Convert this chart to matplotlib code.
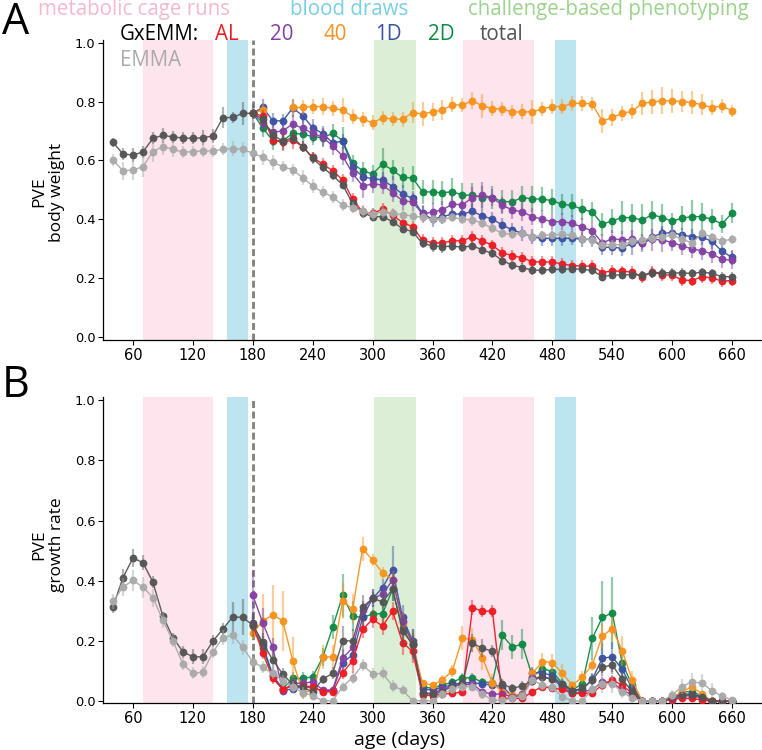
import matplotlib
matplotlib.use("Agg")
import matplotlib.pyplot as plt

NaN = float('nan')
days = list(range(40, 670, 10))          # 63 time points
pre = [NaN] * 14                          # GxEMM series start at day 180

# ---------------- Panel A: PVE body weight ----------------
total_bw = [0.661,0.622,0.618,0.629,0.675,0.685,0.680,0.676,0.675,0.677,0.683,0.745,0.746,0.760,
            0.760,0.740,0.686,0.666,0.677,0.647,0.608,0.576,0.549,0.517,0.454,0.422,0.409,0.409,0.392,0.368,
            0.358,0.318,0.310,0.307,0.309,0.305,0.310,0.296,0.284,0.260,0.244,0.236,0.227,0.227,0.230,0.230,
            0.232,0.230,0.227,0.205,0.211,0.211,0.212,0.210,0.219,0.219,0.218,0.218,0.216,0.221,0.216,0.205,0.205]
emma_bw = [0.601,0.565,0.567,0.579,0.630,0.647,0.638,0.628,0.630,0.632,0.632,0.638,0.640,0.638,
           0.624,0.611,0.593,0.579,0.568,0.541,0.513,0.492,0.476,0.448,0.440,0.428,0.418,0.425,0.420,0.416,
           0.411,0.407,0.400,0.400,0.407,0.400,0.398,0.387,0.369,0.352,0.349,0.352,0.341,0.346,0.347,0.349,
           0.345,0.333,0.330,0.314,0.314,0.314,0.325,0.330,0.336,0.341,0.346,0.332,0.320,0.352,0.339,0.327,0.332]
al_bw = [0.760,0.751,0.669,0.662,0.669,0.647,0.610,0.588,0.565,0.534,0.468,0.425,0.420,0.434,0.414,0.389,
         0.375,0.329,0.320,0.320,0.327,0.327,0.341,0.327,0.311,0.286,0.277,0.269,0.256,0.255,0.255,0.248,
         0.243,0.241,0.241,0.219,0.225,0.223,0.221,0.205,0.221,0.212,0.210,0.194,0.192,0.205,0.201,0.190,0.192]
d20_bw = [0.760,0.728,0.696,0.700,0.724,0.709,0.692,0.679,0.649,0.615,0.556,0.513,0.520,0.517,0.490,0.463,
          0.459,0.418,0.425,0.432,0.452,0.449,0.474,0.482,0.474,0.447,0.432,0.425,0.409,0.400,0.392,0.392,
          0.386,0.373,0.361,0.320,0.334,0.330,0.332,0.320,0.332,0.330,0.321,0.310,0.299,0.293,0.282,0.264,0.261]
d40_bw = [0.760,0.771,NaN,NaN,0.780,0.780,0.783,0.783,0.777,0.771,0.749,0.740,0.728,0.744,0.741,0.740,
          0.762,0.758,0.765,0.771,0.789,0.788,0.803,0.785,0.776,0.775,0.764,0.765,0.765,0.775,0.783,0.783,
          0.794,0.794,0.792,0.733,0.746,0.760,0.767,0.794,0.798,0.803,0.802,0.800,0.796,0.789,0.779,0.785,0.768]
d1_bw = [0.760,0.780,0.735,0.734,0.778,0.752,0.711,0.691,0.660,0.665,0.576,0.545,0.538,0.534,0.511,0.486,
         0.471,0.420,0.400,0.409,0.418,0.418,0.427,0.411,0.401,0.380,0.364,0.352,0.341,0.335,0.335,0.335,
         0.336,0.332,0.332,0.305,0.305,0.302,0.320,0.320,0.341,0.352,0.355,0.346,0.341,0.339,0.325,0.291,0.271]
d2_bw = [0.760,0.711,0.667,0.667,0.692,0.689,0.681,0.677,0.692,0.667,0.590,0.565,0.554,0.588,0.567,0.542,
         0.541,0.493,0.493,0.490,0.494,0.482,0.482,0.474,0.474,0.460,0.460,0.474,0.469,0.469,0.463,0.451,
         0.447,0.434,0.425,0.383,0.395,0.406,0.406,0.397,0.416,0.406,0.393,0.404,0.409,0.409,0.400,0.384,0.422]

total_bw_err = [0.015,0.02,0.025,0.02,0.02,0.025,0.02,0.02,0.02,0.025,0.025,0.035,0.02,0.04,
                0.03,0.02,0.02,0.02,0.02,0.02,0.02,0.015,0.015,0.015,0.015,0.015,0.015,0.015,0.015,0.015,
                0.015,0.015,0.02,0.02,0.015,0.015,0.015,0.015,0.015,0.015,0.015,0.015,0.015,0.015,0.015,0.015,
                0.015,0.015,0.015,0.015,0.015,0.015,0.015,0.015,0.02,0.015,0.015,0.015,0.015,0.015,0.015,0.015,0.015]
emma_bw_err = [0.02,0.03,0.035,0.035,0.035,0.03,0.025,0.02,0.02,0.02,0.02,0.02,0.025,0.025,
               0.025,0.025,0.025,0.02,0.02,0.025,0.025,0.02,0.02,0.02,0.02,0.02,0.02,0.02,0.02,0.02,
               0.02,0.015,0.015,0.015,0.015,0.015,0.02,0.015,0.015,0.015,0.015,0.015,0.015,0.015,0.015,0.015,
               0.015,0.015,0.015,0.015,0.015,0.015,0.015,0.015,0.015,0.02,0.02,0.02,0.02,0.015,0.015,0.015,0.015]
al_bw_err = [0.01,0.02,0.02,0.03,0.03,0.02,0.02,0.02,0.02,0.02,0.02,0.02,0.02,0.02,0.02,0.02,
             0.02,0.02,0.02,0.02,0.02,0.02,0.02,0.02,0.02,0.02,0.02,0.02,0.02,0.02,0.02,0.02,
             0.02,0.02,0.02,0.02,0.02,0.02,0.02,0.02,0.02,0.02,0.02,0.02,0.02,0.02,0.02,0.02,0.02]
d20_bw_err = [0.01,0.03,0.03,0.025,0.03,0.03,0.03,0.03,0.03,0.03,0.03,0.04,0.03,0.03,0.03,0.03,
              0.03,0.03,0.03,0.03,0.03,0.03,0.035,0.045,0.03,0.03,0.03,0.03,0.03,0.03,0.03,0.03,
              0.03,0.03,0.03,0.03,0.03,0.03,0.03,0.03,0.04,0.04,0.03,0.03,0.03,0.03,0.03,0.03,0.03]
d40_bw_err = [0.01,0.025,0.0,0.0,0.025,0.025,0.025,0.03,0.025,0.04,0.025,0.025,0.025,0.025,0.025,0.025,
              0.035,0.04,0.03,0.035,0.025,0.025,0.03,0.04,0.025,0.025,0.025,0.025,0.04,0.025,0.025,0.025,
              0.025,0.025,0.025,0.04,0.03,0.025,0.025,0.04,0.04,0.045,0.04,0.035,0.04,0.035,0.025,0.025,0.02]
d1_bw_err = [0.01,0.03,0.025,0.025,0.03,0.03,0.03,0.025,0.025,0.025,0.025,0.025,0.025,0.025,0.035,0.03,
             0.025,0.025,0.025,0.025,0.025,0.025,0.025,0.025,0.025,0.025,0.025,0.025,0.025,0.025,0.025,0.025,
             0.025,0.025,0.025,0.025,0.025,0.025,0.04,0.025,0.025,0.025,0.025,0.025,0.025,0.025,0.025,0.025,0.025]
d2_bw_err = [0.01,0.03,0.03,0.03,0.035,0.03,0.03,0.03,0.03,0.045,0.03,0.03,0.03,0.055,0.035,0.035,
             0.04,0.04,0.04,0.04,0.045,0.04,0.04,0.04,0.04,0.04,0.04,0.04,0.045,0.04,0.04,0.035,
             0.04,0.035,0.035,0.04,0.04,0.055,0.045,0.055,0.045,0.045,0.03,0.04,0.055,0.045,0.035,0.03,0.035]

# ---------------- Panel B: PVE growth rate ----------------
total_gr = [0.313,0.410,0.476,0.460,0.395,0.282,0.211,0.164,0.147,0.147,0.199,0.239,0.280,0.278,
            0.252,0.195,0.136,0.090,0.055,0.045,0.031,0.073,0.092,0.200,0.200,0.313,0.341,0.330,0.371,0.233,
            0.189,0.025,0.023,0.031,0.050,0.057,0.193,0.175,0.166,0.057,0.042,0.051,0.067,0.081,0.072,0.058,
            0.034,0.042,0.070,0.112,0.120,0.072,0.031,0.0,0.0,0.0,0.014,0.020,0.020,0.014,0.0,0.0,0.0]
emma_gr = [0.331,0.379,0.401,0.379,0.344,0.268,0.200,0.123,0.092,0.096,0.162,0.211,0.219,0.178,
           0.131,0.112,0.092,0.067,0.048,0.028,0.018,0.001,0.001,0.048,0.078,0.120,0.090,0.092,0.050,0.037,
           0.001,0.001,0.001,0.023,0.039,0.048,0.048,0.023,0.003,0.003,0.009,0.016,0.070,0.053,0.045,0.014,
           0.0,0.0,0.039,0.057,0.057,0.031,0.009,0.0,0.0,0.0,0.020,0.048,0.064,0.059,0.034,0.016,0.003]
al_gr = [0.252,0.160,0.075,0.039,0.050,0.050,0.048,0.031,0.031,0.094,0.134,0.238,0.272,0.249,0.299,0.194,
         0.165,0.020,0.018,0.023,0.025,0.031,0.310,0.299,0.299,0.009,0.009,0.009,0.031,0.048,0.042,0.039,
         0.025,0.025,0.027,0.053,0.070,0.053,0.025,0.0,0.0,0.0,0.006,0.009,0.009,0.003,0.0,0.0,0.0]
d20_gr = [0.352,0.260,0.178,0.034,0.059,0.059,0.064,0.037,0.037,0.142,0.178,0.302,0.341,0.355,0.402,0.267,
          0.191,0.028,0.025,0.039,0.050,0.053,0.057,0.030,0.023,0.023,0.014,0.018,0.075,0.081,0.072,0.048,
          0.025,0.031,0.037,0.064,0.061,0.037,0.020,0.0,0.0,0.0,0.005,0.017,0.017,0.010,0.0,0.0,0.0]
d40_gr = [0.225,0.267,0.286,0.267,0.134,0.028,0.035,0.147,0.147,0.333,0.305,0.507,0.468,0.427,0.404,0.258,
          0.188,0.059,0.053,0.070,0.101,0.210,0.203,0.144,0.060,0.030,0.020,0.020,0.092,0.131,0.128,0.092,
          0.053,0.079,0.120,0.216,0.241,0.167,0.070,0.0,0.0,0.0,0.009,0.031,0.048,0.023,0.0,0.0,0.0]
d1_gr = [0.258,0.186,0.086,0.037,0.039,0.048,0.045,0.033,0.034,0.128,0.153,0.278,0.341,0.377,0.437,0.278,
         0.200,0.039,0.037,0.045,0.055,0.061,0.061,0.057,0.053,0.048,0.016,0.023,0.094,0.094,0.084,0.053,
         0.034,0.037,0.072,0.142,0.147,0.105,0.042,0.0,0.0,0.0,0.008,0.023,0.023,0.014,0.0,0.0,0.0]
d2_gr = [0.250,0.175,0.084,0.041,0.075,0.075,0.081,0.145,0.245,0.351,0.282,0.278,0.289,0.291,0.371,0.242,
         0.186,0.048,0.042,0.053,0.063,0.077,0.077,0.063,0.061,0.218,0.180,0.189,0.081,0.108,0.098,0.058,
         0.037,0.057,0.208,0.278,0.293,0.125,0.053,0.0,0.0,0.0,0.010,0.031,0.031,0.017,0.0,0.0,0.0]

total_gr_err = [0.02,0.03,0.03,0.025,0.02,0.015,0.015,0.02,0.025,0.025,0.02,0.02,0.05,0.06,
                0.04,0.03,0.03,0.02,0.02,0.015,0.015,0.015,0.02,0.05,0.04,0.04,0.02,0.03,0.04,0.05,
                0.05,0.015,0.015,0.015,0.015,0.02,0.03,0.03,0.02,0.015,0.015,0.015,0.015,0.02,0.02,0.015,
                0.015,0.015,0.02,0.03,0.03,0.02,0.015,0.005,0.005,0.005,0.01,0.01,0.01,0.01,0.005,0.005,0.005]
emma_gr_err = [0.025,0.03,0.035,0.035,0.03,0.025,0.02,0.02,0.02,0.02,0.02,0.025,0.03,0.025,
               0.02,0.02,0.02,0.02,0.02,0.02,0.015,0.01,0.01,0.015,0.02,0.02,0.02,0.02,0.02,0.015,
               0.01,0.01,0.01,0.015,0.015,0.015,0.015,0.015,0.01,0.01,0.01,0.01,0.02,0.02,0.015,0.01,
               0.005,0.005,0.015,0.03,0.03,0.02,0.01,0.005,0.005,0.005,0.015,0.025,0.03,0.03,0.025,0.015,0.01]
al_gr_err = [0.02,0.02,0.02,0.01,0.01,0.01,0.01,0.01,0.01,0.02,0.04,0.03,0.03,0.03,0.03,0.04,
             0.04,0.01,0.01,0.01,0.01,0.01,0.025,0.02,0.02,0.005,0.005,0.005,0.01,0.01,0.01,0.01,
             0.01,0.01,0.01,0.015,0.015,0.015,0.01,0.005,0.005,0.005,0.005,0.005,0.005,0.005,0.005,0.005,0.005]
d20_gr_err = [0.08,0.05,0.03,0.01,0.02,0.02,0.02,0.01,0.01,0.03,0.03,0.03,0.03,0.03,0.03,0.03,
              0.03,0.01,0.01,0.01,0.01,0.01,0.01,0.01,0.01,0.01,0.01,0.01,0.015,0.015,0.015,0.01,
              0.01,0.01,0.01,0.015,0.015,0.01,0.01,0.005,0.005,0.005,0.005,0.01,0.01,0.005,0.005,0.005,0.005]
d40_gr_err = [0.02,0.09,0.1,0.1,0.08,0.02,0.02,0.04,0.04,0.06,0.05,0.04,0.02,0.02,0.03,0.04,
              0.04,0.01,0.01,0.015,0.02,0.04,0.04,0.04,0.03,0.01,0.01,0.01,0.02,0.03,0.03,0.03,
              0.015,0.02,0.02,0.04,0.04,0.05,0.03,0.005,0.005,0.005,0.005,0.01,0.015,0.01,0.005,0.005,0.005]
d1_gr_err = [0.03,0.03,0.02,0.01,0.01,0.01,0.01,0.01,0.01,0.03,0.03,0.03,0.03,0.03,0.08,0.04,
             0.04,0.01,0.01,0.01,0.01,0.01,0.01,0.01,0.01,0.01,0.01,0.01,0.02,0.02,0.02,0.01,
             0.01,0.01,0.02,0.05,0.05,0.03,0.01,0.005,0.005,0.005,0.005,0.01,0.01,0.005,0.005,0.005,0.005]
d2_gr_err = [0.03,0.03,0.02,0.01,0.02,0.02,0.02,0.03,0.04,0.07,0.05,0.03,0.03,0.03,0.04,0.04,
             0.04,0.01,0.01,0.01,0.015,0.015,0.015,0.015,0.02,0.05,0.04,0.05,0.03,0.03,0.03,0.02,
             0.01,0.02,0.07,0.12,0.12,0.05,0.02,0.005,0.005,0.005,0.005,0.01,0.01,0.01,0.005,0.005,0.005]

# ---------------- shaded study periods (days) ----------------
metabolic_spans = [(70, 140), (391, 462)]
blood_spans = [(154, 175), (483, 504)]
challenge_spans = [(301, 343)]
diet_start = 180

xticks = [60, 120, 180, 240, 300, 360, 420, 480, 540, 600, 660]
yticks = [0.0, 0.2, 0.4, 0.6, 0.8, 1.0]

C_AL, C_20, C_40, C_1D, C_2D = '#ed1c24', '#8441a3', '#f7931e', '#3a52a3', '#0f8a45'
C_TOT, C_EMMA = '#555555', '#aaaaaa'
PINK, BLUE, GREEN = '#fde4ed', '#bde5f0', '#dcefd6'
TXT_PINK, TXT_BLUE, TXT_GREEN = '#f6b8cc', '#78d0e5', '#9bd48d'

LABEL_FONT = ['Open Sans', 'DejaVu Sans']

fig = plt.figure(figsize=(7.62, 7.5), dpi=100)
W, H = 762.0, 750.0
ax1 = fig.add_axes([103 / W, 1 - 340 / H, 1 - 103 / W, 300 / H])
ax2 = fig.add_axes([103 / W, 1 - 703 / H, 1 - 103 / W, 306 / H])


def draw(ax, y, err, color, z):
    line, caps, bars = ax.errorbar(days, y, yerr=err, color=color, marker='o', ms=4.6,
                                   lw=1.0, elinewidth=1.6, capsize=0, zorder=z)
    for b in bars:
        b.set_alpha(0.45)
    line.set_alpha(0.95)


panels = [
    (ax1, (-0.010, 1.009),
     [(pre + d2_bw, pre + d2_bw_err, C_2D), (pre + d1_bw, pre + d1_bw_err, C_1D),
      (pre + d40_bw, pre + d40_bw_err, C_40), (pre + d20_bw, pre + d20_bw_err, C_20),
      (pre + al_bw, pre + al_bw_err, C_AL), (total_bw, total_bw_err, C_TOT),
      (emma_bw, emma_bw_err, C_EMMA)]),
    (ax2, (-0.0066, 1.011),
     [(pre + d2_gr, pre + d2_gr_err, C_2D), (pre + d1_gr, pre + d1_gr_err, C_1D),
      (pre + d40_gr, pre + d40_gr_err, C_40), (pre + d20_gr, pre + d20_gr_err, C_20),
      (pre + al_gr, pre + al_gr_err, C_AL), (total_gr, total_gr_err, C_TOT),
      (emma_gr, emma_gr_err, C_EMMA)]),
]

for ax, ylim, series in panels:
    for a, b in metabolic_spans:
        ax.axvspan(a, b, color=PINK, lw=0, zorder=0)
    for a, b in blood_spans:
        ax.axvspan(a, b, color=BLUE, lw=0, zorder=0)
    for a, b in challenge_spans:
        ax.axvspan(a, b, color=GREEN, lw=0, zorder=0)
    ax.axvline(diet_start, color='#808080', lw=2, ls=(0, (2.5, 1.3)), zorder=1)
    z = 2
    for y, e, c in series:
        draw(ax, y, e, c, z)
        z += 1
    ax.set_xlim(30, 690)
    ax.set_ylim(*ylim)
    ax.set_xticks(xticks)
    ax.set_yticks(yticks)
    ax.set_yticklabels([f"{v:.1f}" for v in yticks])
    ax.tick_params(axis='x', labelsize=10.5, length=3.5, width=0.8, pad=2)
    ax.tick_params(axis='y', labelsize=9.3, length=3.5, width=0.8, pad=2)
    for s in ('top', 'right'):
        ax.spines[s].set_visible(False)
    for s in ('left', 'bottom'):
        ax.spines[s].set_linewidth(0.9)


def ftext(x, y, s, **kw):
    fig.text(x / W, 1 - y / H, s, family=LABEL_FONT, va='baseline', ha='left', **kw)


ftext(38, 15, 'metabolic cage runs', color=TXT_PINK, fontsize=14.8)
ftext(290, 15, 'blood draws', color=TXT_BLUE, fontsize=14.8)
ftext(468, 15, 'challenge-based phenotyping', color=TXT_GREEN, fontsize=14.8)
ftext(120, 40, 'GxEMM:', color='black', fontsize=14.8)
for xpos, lab, col in [(215, 'AL', C_AL), (270, '20', C_20), (323, '40', C_40),
                       (375, '1D', C_1D), (428, '2D', C_2D), (480, 'total', C_TOT)]:
    ftext(xpos, 40, lab, color=col, fontsize=14.8)
ftext(120, 66, 'EMMA', color=C_EMMA, fontsize=14.8)

ftext(2, 34, 'A', color='black', fontsize=31)
ftext(2, 397, 'B', color='black', fontsize=31)

fig.text(48 / W, 1 - 192 / H, 'PVE\nbody weight', family=LABEL_FONT, fontsize=12.5,
         rotation=90, ha='center', va='center', multialignment='center', linespacing=1.1)
fig.text(48 / W, 1 - 545 / H, 'PVE\ngrowth rate', family=LABEL_FONT, fontsize=12.5,
         rotation=90, ha='center', va='center', multialignment='center', linespacing=1.1)
fig.text(400 / W, 1 - 745 / H, 'age (days)', family=LABEL_FONT, fontsize=14,
         ha='center', va='baseline')

fig.savefig('out.png', dpi=100)
